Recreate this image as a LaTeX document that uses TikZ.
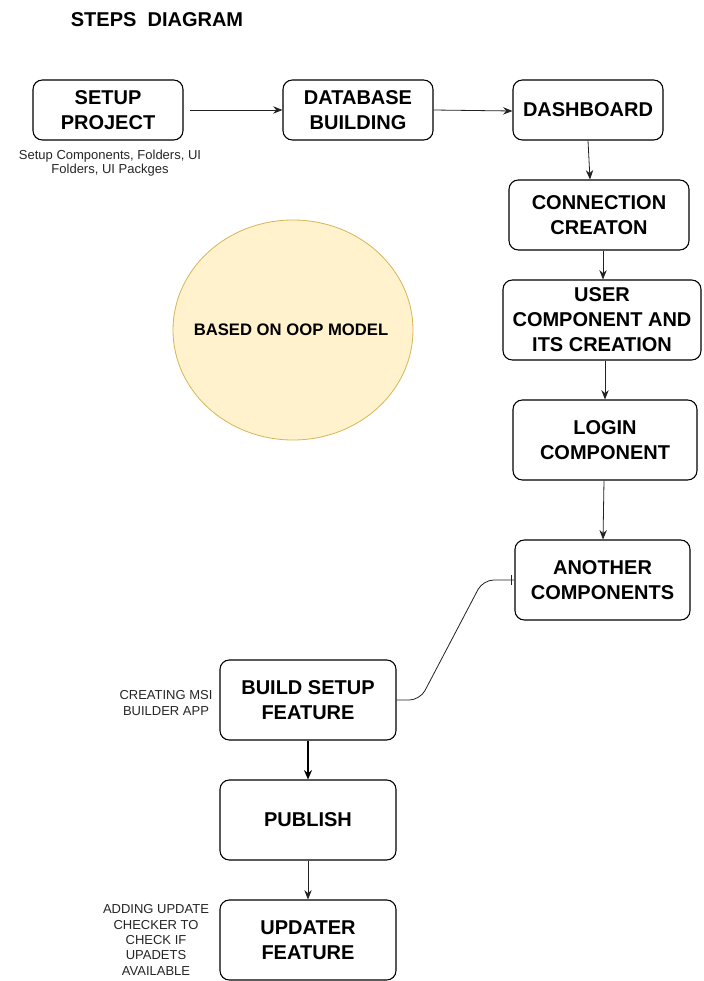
\documentclass[tikz,border=0pt]{standalone}
\usepackage{fontspec}
\setmainfont{Liberation Sans}
\usetikzlibrary{arrows.meta,calc,shapes.geometric}
\definecolor{ellfill}{HTML}{FFF2CC}
\definecolor{elldraw}{HTML}{D6B656}
\definecolor{linegray}{HTML}{222222}
\begin{document}
\begin{tikzpicture}[x=0.75pt,y=-0.75pt,
  box/.style={draw, rounded corners=7pt, line width=0.8pt, align=center,
    font=\fontsize{15}{18.75}\selectfont\bfseries, inner sep=0pt},
  note/.style={align=center, font=\fontsize{9.75}{11.5}\selectfont, inner sep=0pt, text=black!85},
  arr/.style={-{Stealth[length=7pt,width=5.5pt]}, line width=0.6pt, draw=linegray},
  thickarr/.style={-{Stealth[length=7pt,width=6pt]}, line width=1.1pt}]
\useasboundingbox (0,0) rectangle (703,981);
\fill[white] (0,0) rectangle (703,981);

\node[font=\fontsize{15}{18}\selectfont\bfseries, inner sep=0pt] (title) at (157,20) {STEPS\ \ DIAGRAM};

\node[box, minimum width=150*0.75pt, minimum height=60*0.75pt] (setup) at (108,110) {SETUP\\PROJECT};
\node[box, minimum width=150*0.75pt, minimum height=60*0.75pt] (db) at (358,110) {DATABASE\\BUILDING};
\node[box, minimum width=150*0.75pt, minimum height=60*0.75pt] (dash) at (588,110) {DASHBOARD};
\node[box, minimum width=180*0.75pt, minimum height=70*0.75pt] (conn) at (599,215) {CONNECTION\\CREATON};
\node[box, minimum width=198*0.75pt, minimum height=80*0.75pt] (user) at (602,320) {USER\\COMPONENT AND\\ITS CREATION};
\node[box, minimum width=184*0.75pt, minimum height=80*0.75pt] (login) at (605,440) {LOGIN\\COMPONENT};
\node[box, minimum width=175*0.75pt, minimum height=80*0.75pt] (another) at (602.5,580) {ANOTHER\\COMPONENTS};
\node[box, minimum width=176*0.75pt, minimum height=80*0.75pt] (build) at (308,700) {BUILD SETUP\\FEATURE};
\node[box, minimum width=176*0.75pt, minimum height=80*0.75pt] (publish) at (308,820) {PUBLISH};
\node[box, minimum width=176*0.75pt, minimum height=80*0.75pt] (updater) at (308,940) {UPDATER\\FEATURE};

\node[draw=elldraw, fill=ellfill, ellipse, line width=0.6pt, minimum width=240*0.75pt, minimum height=220*0.75pt, inner sep=0pt] (oop) at (293,330) {};
\node[font=\fontsize{12.5}{15}\selectfont\bfseries, inner sep=0pt] (ooptext) at (291,330) {BASED ON OOP MODEL};

\node[note, font=\fontsize{9.75}{10.8}\selectfont] (setupnote) at (110,163) {Setup Components, Folders, UI\\Folders, UI Packges};
\node[note] (buildnote) at (166,703) {CREATING MSI\\BUILDER APP};
\node[note] (updnote) at (156,940) {ADDING UPDATE\\CHECKER TO\\CHECK IF\\UPADETS\\AVAILABLE};

\coordinate (s1) at (190,110);
\draw[arr] (s1) -- (db.west);
\draw[arr] (db.east) -- ($(dash.west)+(0,1)$);
\draw[arr] (dash.south) -- ($(conn.north)+(-9,0)$);
\draw[arr] ($(conn.south)+(4,0)$) -- ($(user.north)+(1,0)$);
\draw[arr] ($(user.south)+(3,0)$) -- ($(login.north)$);
\draw[arr] ($(login.south)+(-1,0)$) -- ($(another.north)+(0.5,0)$);
\draw[thickarr] (build.south) -- (publish.north);
\draw[arr] (publish.south) -- (updater.north);

\coordinate (k1) at (420,700);
\coordinate (k2) at (483,580);
\draw[line width=0.6pt, draw=linegray, rounded corners=8pt] (build.east) -- (k1) -- (k2) -- (another.west);
\coordinate (t1) at (511,575);
\coordinate (t2) at (511,585);
\draw[line width=0.6pt, draw=linegray] (t1) -- (t2);
\end{tikzpicture}
\end{document}
